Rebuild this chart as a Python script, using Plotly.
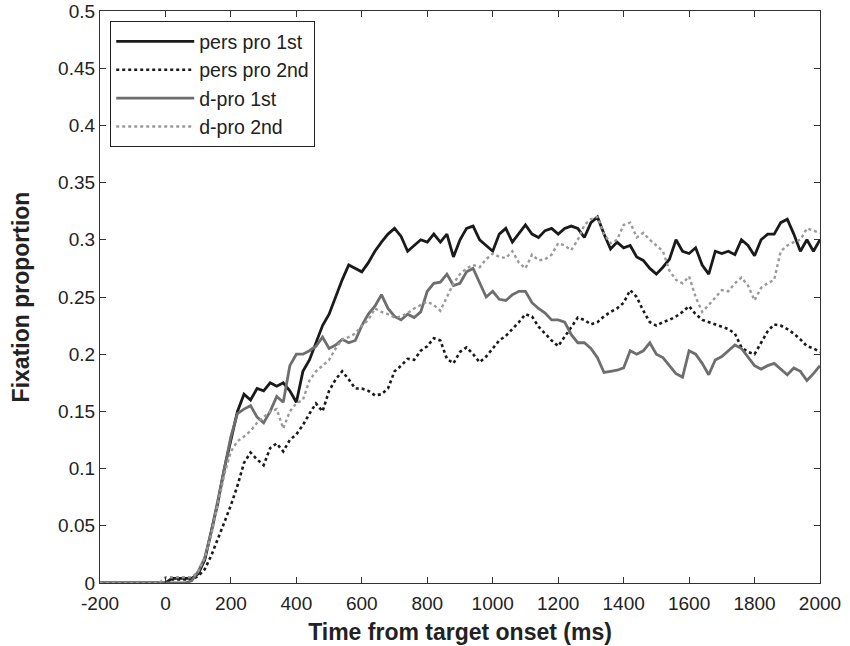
import plotly.graph_objects as go

t_start, t_step = -200, 20
pre = [0.0] * 10  # -200 .. -20 ms

pers_pro_1st = pre + [
    0.0, 0.004, 0.004, 0.004, 0.004, 0.008, 0.02, 0.045, 0.07, 0.1,
    0.125, 0.15, 0.165, 0.16, 0.17, 0.168, 0.175, 0.172, 0.175, 0.168,
    0.158, 0.185, 0.195, 0.21, 0.225, 0.235, 0.25, 0.265, 0.278, 0.275,
    0.272, 0.28, 0.29, 0.298, 0.305, 0.31, 0.303, 0.29, 0.295, 0.30,
    0.298, 0.305, 0.298, 0.305, 0.285, 0.30, 0.31, 0.312, 0.30, 0.295,
    0.29, 0.305, 0.31, 0.298, 0.305, 0.313, 0.305, 0.302, 0.308, 0.31,
    0.305, 0.31, 0.312, 0.31, 0.302, 0.315, 0.32, 0.305, 0.292, 0.298,
    0.293, 0.295, 0.285, 0.282, 0.275, 0.27, 0.276, 0.283, 0.30, 0.29,
    0.288, 0.293, 0.278, 0.27, 0.29, 0.288, 0.29, 0.287, 0.30, 0.295,
    0.286, 0.30, 0.305, 0.305, 0.315, 0.318, 0.305, 0.29, 0.30, 0.29,
    0.30]

pers_pro_2nd = pre + [
    0.0, 0.003, 0.003, 0.003, 0.003, 0.006, 0.012, 0.024, 0.038, 0.053,
    0.068, 0.085, 0.105, 0.114, 0.108, 0.103, 0.118, 0.122, 0.115, 0.125,
    0.13, 0.138, 0.148, 0.157, 0.15, 0.168, 0.178, 0.185, 0.178, 0.17,
    0.17, 0.168, 0.164, 0.165, 0.17, 0.185, 0.19, 0.196, 0.195, 0.203,
    0.207, 0.214, 0.212, 0.196, 0.192, 0.202, 0.206, 0.2, 0.193, 0.198,
    0.205, 0.212, 0.216, 0.222, 0.228, 0.235, 0.233, 0.224, 0.218, 0.212,
    0.207, 0.215, 0.223, 0.232, 0.23, 0.226, 0.228, 0.233, 0.237, 0.24,
    0.245, 0.256, 0.25, 0.238, 0.228, 0.225, 0.228, 0.23, 0.233, 0.237,
    0.242, 0.235, 0.23, 0.228, 0.226, 0.224, 0.222, 0.218, 0.206, 0.202,
    0.2, 0.21, 0.22, 0.226, 0.225, 0.222, 0.218, 0.213, 0.207, 0.205,
    0.202]

d_pro_1st = pre + [
    0.0, 0.0, 0.0, 0.0, 0.002, 0.01, 0.022, 0.045, 0.072, 0.1,
    0.128, 0.148, 0.152, 0.155, 0.145, 0.14, 0.15, 0.163, 0.158, 0.19,
    0.2, 0.2, 0.203, 0.207, 0.215, 0.205, 0.208, 0.213, 0.21, 0.212,
    0.225, 0.235, 0.242, 0.252, 0.24, 0.233, 0.23, 0.235, 0.232, 0.237,
    0.255, 0.262, 0.263, 0.27, 0.26, 0.262, 0.272, 0.275, 0.262, 0.25,
    0.255, 0.248, 0.247, 0.252, 0.255, 0.255, 0.245, 0.24, 0.236, 0.23,
    0.23, 0.228, 0.217, 0.21, 0.21, 0.205, 0.197, 0.184, 0.185, 0.186,
    0.188, 0.203, 0.2, 0.203, 0.21, 0.2, 0.197, 0.19, 0.183, 0.18,
    0.203, 0.2, 0.192, 0.182, 0.195, 0.198, 0.203, 0.208, 0.205, 0.197,
    0.19, 0.187, 0.19, 0.192, 0.187, 0.182, 0.188, 0.185, 0.177, 0.183,
    0.19]

d_pro_2nd = pre + [
    0.005, 0.005, 0.005, 0.005, 0.005, 0.01, 0.022, 0.042, 0.07, 0.095,
    0.115, 0.124, 0.128, 0.133, 0.14, 0.145, 0.15, 0.152, 0.135, 0.15,
    0.157, 0.16, 0.177, 0.185, 0.19, 0.195, 0.205, 0.213, 0.215, 0.218,
    0.225, 0.23, 0.24, 0.237, 0.235, 0.232, 0.233, 0.236, 0.24, 0.243,
    0.246, 0.243, 0.238, 0.25, 0.262, 0.27, 0.275, 0.278, 0.276, 0.283,
    0.288, 0.285, 0.284, 0.29, 0.28, 0.275, 0.287, 0.282, 0.283, 0.287,
    0.297, 0.295, 0.291, 0.30, 0.313, 0.318, 0.32, 0.305, 0.297, 0.30,
    0.313, 0.315, 0.302, 0.306, 0.30, 0.295, 0.29, 0.273, 0.265, 0.262,
    0.268, 0.25, 0.237, 0.243, 0.25, 0.256, 0.255, 0.262, 0.267, 0.26,
    0.247, 0.258, 0.262, 0.265, 0.29, 0.295, 0.298, 0.30, 0.31, 0.308,
    0.306]

time_ms = [t_start + i * t_step for i in range(len(pers_pro_1st))]

x_ticks = list(range(-200, 2001, 200))
x_tick_labels = [str(v) for v in x_ticks]  # plain hyphen for "-200"
y_ticks = [round(0.05 * i, 2) for i in range(11)]
y_tick_labels = ["0", "0.05", "0.1", "0.15", "0.2", "0.25", "0.3", "0.35", "0.4", "0.45", "0.5"]

series = [
    ("pers pro 1st", pers_pro_1st, "#1a1a1a", "solid", 2.8),
    ("pers pro 2nd", pers_pro_2nd, "#1a1a1a", "dot", 2.6),
    ("d-pro 1st", d_pro_1st, "#6e6e6e", "solid", 2.8),
    ("d-pro 2nd", d_pro_2nd, "#9a9a9a", "dot", 2.4),
]

fig = go.Figure()
for name, vals, color, dash, w in series:
    fig.add_trace(go.Scatter(x=time_ms, y=vals, mode="lines", name=name,
                             line=dict(color=color, dash=dash, width=w)))

font_family = "Liberation Sans, Arial, sans-serif"
fig.update_layout(
    width=850, height=646,
    margin=dict(l=100, r=30, t=11, b=63),
    plot_bgcolor="white", paper_bgcolor="white",
    font=dict(family=font_family, size=19, color="#222"),
    showlegend=True,
    legend=dict(x=0.0139, y=0.9825, xanchor="left", yanchor="top",
                bgcolor="white", bordercolor="#222", borderwidth=1.2,
                font=dict(size=19.5, color="#222"), itemwidth=78,
                tracegroupgap=0),
    xaxis=dict(range=[-200, 2000], tickvals=x_ticks, ticktext=x_tick_labels,
               ticks="inside", ticklen=6, ticklabeloverflow="allow",
               ticklabelstandoff=3, automargin=False,
               tickcolor="#333", showline=True, linecolor="#333", linewidth=1.2,
               mirror="ticks", showgrid=False, zeroline=False,
               tickfont=dict(size=19),
               title=dict(text="<b>Time from target onset (ms)</b>", font=dict(size=23), standoff=10)),
    yaxis=dict(range=[0, 0.5], tickvals=y_ticks, ticktext=y_tick_labels,
               ticks="inside", ticklen=6, ticklabeloverflow="allow", automargin=False,
               tickcolor="#333", showline=True, linecolor="#333", linewidth=1.2,
               mirror="ticks", showgrid=False, zeroline=False,
               tickfont=dict(size=19),
               title=dict(text="<b>Fixation proportion</b>", font=dict(size=23), standoff=22)),
)

fig.write_html("out.html", config={"displayModeBar": False},
               post_script="document.body.style.margin='0';")
